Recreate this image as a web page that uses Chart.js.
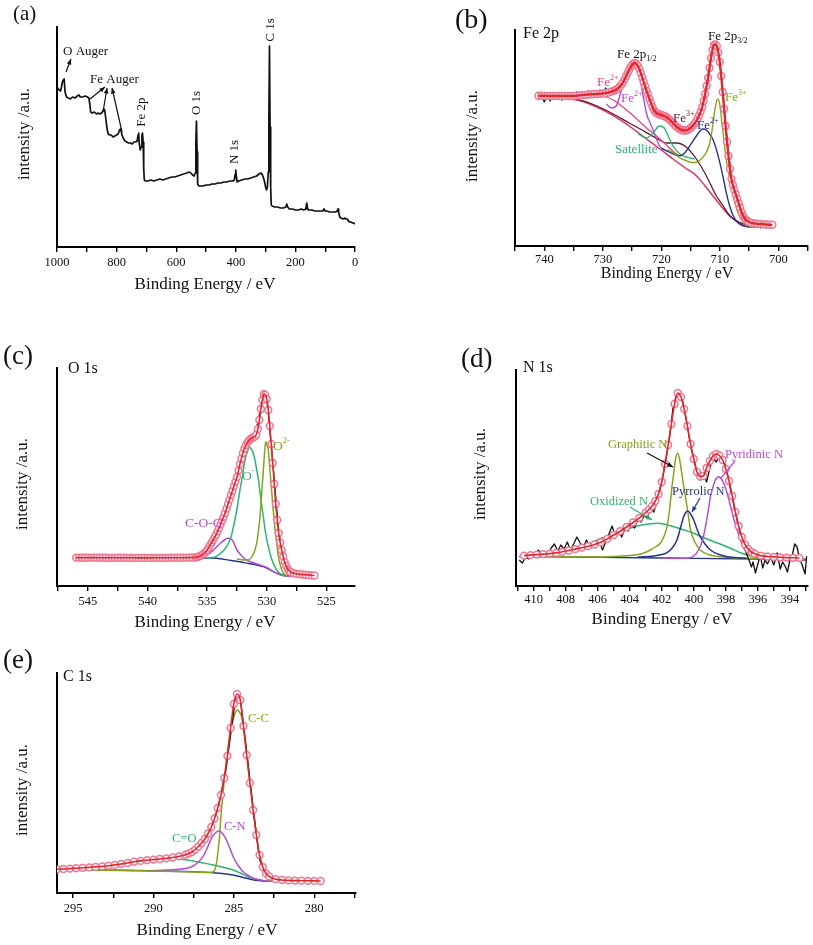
<!DOCTYPE html>
<html>
<head>
<meta charset="utf-8">
<script src="https://cdn.jsdelivr.net/npm/chart.js@4.4.1/dist/chart.umd.min.js"></script>
<style>
  html, body { margin: 0; padding: 0; background: #fff; }
  #wrap { position: relative; width: 813px; height: 945px; overflow: hidden; }
  canvas { position: absolute; }
</style>
</head>
<body>
<div id="wrap"></div>
<script>
// ---- values: [binding energy (eV), intensity (a.u.)] ----

// (a) survey
const surveyA = [[1000,160],[996,158],[992,157],[988,156],[985,160],[982,165],[979,167],[976,168],[973,155],[968,150],[962,149],[955,148],[948,150],[940,149],[932,151],[926,152],[922,150],[915,150],[905,151],[898,150],[893,149],[890,143],[887,135],[882,134],[875,135],[868,133],[862,134],[856,133],[850,134],[846,136],[843,138],[840,137],[836,128],[832,118],[828,113],[824,112],[818,112],[812,110],[806,111],[800,112],[795,113],[790,117],[786,118],[782,112],[778,109],[772,106],[766,105],[760,104],[754,104],[748,103],[742,105],[736,105],[731,106],[728,112],[726,114],[724,104],[721,97],[718,100],[715,112],[713,114],[711,105],[709,78],[707,67],[703,66],[695,66],[685,67],[675,66],[665,67],[655,68],[645,67],[635,68],[625,69],[615,70],[605,70],[595,71],[585,72],[575,73],[565,74],[557,75],[551,74],[545,72],[540,71],[536,74],[534,105],[532,126],[530,95],[528,63],[524,61],[518,61],[510,61],[500,62],[490,62],[480,63],[470,63],[460,64],[450,64],[440,65],[430,65],[420,66],[410,66],[405,67],[402,73],[400,77],[398,70],[395,65],[390,66],[380,67],[370,68],[360,68],[350,69],[340,70],[330,71],[322,73],[316,74],[312,73],[308,70],[304,66],[300,60],[297,57],[294,60],[291,75],[289,130],[287,201],[285,120],[283,60],[281,42],[278,41],[270,40],[260,40],[250,39],[240,39],[232,40],[229,43],[226,40],[220,38],[210,38],[200,37],[190,37],[180,38],[172,37],[165,38],[162,44],[159,38],[155,37],[145,37],[135,36],[125,36],[115,36],[108,36],[104,38],[100,36],[95,36],[85,35],[75,35],[65,35],[60,36],[57,38],[55,35],[51,30],[47,29],[40,28],[34,29],[30,28],[26,28],[22,26],[18,25],[14,25],[8,24],[4,24],[0,23]];

// (b) Fe 2p
const feRaw = [[741,146],[740.5,152],[740,144],[739.5,150],[739,145],[738.5,151],[738,147],[737.5,149],[737,146],[736.5,150],[736,148],[735.5,153],[735,149],[734.5,154],[734,150],[733.5,152],[733,150],[732.5,155],[732,151],[731.5,153],[731,150],[730.5,156],[730,152],[729.5,158],[729,153],[728.5,157],[728,155],[727.5,160],[727,162],[726.5,166],[726,172],[725.5,178],[725,184],[724.5,186],[724,181],[723.5,172],[723,164],[722.5,155],[722,146],[721.5,138],[721,135],[720.5,133],[720,131],[719.5,130],[719,128],[718.5,125],[718,121],[717.5,118],[717,116],[716.5,114],[716,116],[715.5,114],[715,118],[714.5,121],[714,125],[713.5,132],[713,141],[712.5,155],[712,170],[711.5,190],[711,201],[710.5,199],[710,184],[709.5,155],[709,121],[708.5,92],[708,70],[707.5,60],[707,52],[706.5,40],[706,28],[705.5,24],[705,20],[704.5,25],[704,19],[703.5,23],[703,18],[702.5,24],[702,20],[701.5,23],[701,19]];
const feEnv = [[741,150.3],[740.5,150.3],[740,150.2],[739.5,150.1],[739,150],[738.5,150],[738,150],[737.5,150],[737,150],[736.5,150],[736,150],[735.5,150],[735,150],[734.5,150.3],[734,150.6],[733.5,150.9],[733,151.2],[732.5,151.5],[732,151.7],[731.5,151.8],[731,152],[730.5,152.2],[730,152.5],[729.5,153],[729,153.5],[728.5,154.5],[728,155.5],[727.75,156.2],[727.5,157],[727.25,158.3],[727,160],[726.75,161.8],[726.5,164],[726.25,167],[726,170],[725.75,173],[725.5,176],[725.25,178.7],[725,181],[724.75,182.5],[724.5,183],[724.25,182],[724,180],[723.75,177],[723.5,173],[723.25,168.5],[723,164],[722.75,159.5],[722.5,155],[722.25,151],[722,147],[721.75,143],[721.5,139],[721.25,136],[721,134],[720.75,132.8],[720.5,132],[720.25,131.5],[720,131],[719.75,130.5],[719.5,130],[719.25,129.3],[719,128.5],[718.75,127.3],[718.5,126],[718.25,124.5],[718,123],[717.75,121.5],[717.5,120],[717.25,118.7],[717,117.5],[716.75,116.7],[716.5,116],[716.25,115.7],[716,115.5],[715.75,115.6],[715.5,116],[715.25,116.9],[715,118],[714.75,119.4],[714.5,121],[714.25,122.9],[714,125],[713.75,127.8],[713.5,131],[713.25,134.7],[713,139],[712.75,145],[712.5,152],[712.25,160],[712,168],[711.75,178],[711.5,188],[711.25,196],[711,201],[710.75,201.5],[710.5,200],[710.25,193.5],[710,184],[709.75,170],[709.5,154],[709.25,137],[709,120],[708.75,104],[708.5,90],[708.25,77],[708,67],[707.75,61],[707.5,56],[707.25,51.5],[707,47],[706.75,42.5],[706.5,38],[706.25,33.5],[706,30],[705.75,27.8],[705.5,26],[705.25,25],[705,24],[704.5,23],[704,22.5],[703.5,22],[703,22],[702.5,21.7],[702,21.5],[701.5,21.3],[701,21.3]];
const feBg = [[741.3,149.7],[737,148],[733.9,145.3],[731,139],[728.2,130.3],[725,118],[722.5,107],[720,96],[718,87],[716,78.5],[714,70.3],[712.5,60],[711.2,50.3],[709.5,38],[708.3,30.3],[707,24],[706,20.3],[704,18.8],[702.6,18.7],[701,18.5]];
const feSat3 = [[741.3,149.7],[737,148.2],[733.9,145.8],[731,140],[728.2,132],[725.5,123],[723.6,117],[720.8,107.7],[719.1,103],[717.4,103],[715.7,98.7],[714,87],[712.3,70.3],[710.6,50.3],[709.4,40],[708.3,30.3],[706,22],[704,19.5],[702,18.8]];
const feSatellite = [[724,112.5],[722.5,108],[721.4,113],[720.3,120],[719.5,118],[718.8,110],[718,100],[716.8,92],[716,89.5],[715,88],[714.3,87]];
const fe2Violet = [[729.4,142],[728.5,138],[727.7,140],[727.1,150],[726.5,163],[725.8,176],[725.2,182],[724.8,182.5],[724.2,178],[723.6,166],[723.1,150],[722.5,132],[721.9,123],[721.4,116],[720.8,107],[720.3,100],[719.5,96]];
const fe2Pink = [[741.3,150],[735,150],[731,151],[729.4,149],[728.2,146],[727,141],[725.5,134],[724,126],[722.5,118],[721,111],[719.5,103],[718,95],[717,90]];
const fe2Blue = [[720,98],[719,95],[718.5,93.7],[717.5,91],[716.8,90.3],[716,93],[715.1,100.3],[714,110],[712.9,117],[712.3,116],[711.6,111],[711.2,107],[710.5,95],[710,83.7],[709.4,68],[708.9,53.7],[708.3,40],[707.7,30.3],[707,24],[706,20.3],[704.5,18.8]];
const fe3Olive = [[719,96],[718,93.7],[716.8,88],[715.7,85.3],[714.7,83.5],[714,83.7],[713,88],[712.3,93.7],[711.7,103],[711.2,120.3],[710.8,137],[710.4,147],[710,142],[709.7,127],[709.3,107],[708.9,87],[708.3,67],[707.7,50.3],[707,35],[706,23.7],[705,19.5],[704,18.8]];

// (c) O 1s
const oRaw = [[546,28.5],[545.5,29.8],[545,28],[544.5,30.5],[544,29],[543.5,30.8],[543,28.6],[542.5,28.2],[542,27.9],[541.5,28.4],[541,27.5],[540.5,26.5],[540,25.3],[539.5,25.8],[539,26.6],[538.5,25.9],[538,27.2],[537.5,28],[537,27.6],[536.5,28.3],[536,27.5],[535.5,29.8],[535,36],[534.5,46],[534,58.5],[533.5,73.5],[533,91],[532.5,109.5],[532,133],[531.5,146],[531,150],[530.5,178],[530.25,193],[530,188],[529.5,124],[529,54],[528.5,24],[528,14],[527.5,12],[527,11],[526.5,10.5],[526,9.5]];
const oEnv = [[546,28.4],[545.75,28.4],[545.5,28.3],[545.25,28.3],[545,28.3],[544.75,28.4],[544.5,28.4],[544.25,28.3],[544,28.3],[543.75,28.3],[543.5,28.3],[543.25,28.2],[543,28.2],[542.75,28.2],[542.5,28.3],[542.25,28.3],[542,28.3],[541.75,28.2],[541.5,28.2],[541.25,28.2],[541,28.2],[540.75,28.1],[540.5,28.1],[540.25,28.1],[540,28.1],[539.75,28.1],[539.5,28.2],[539.25,28.2],[539,28.2],[538.75,28.2],[538.5,28.2],[538.25,28.2],[538,28.3],[537.75,28.3],[537.5,28.3],[537.25,28.3],[537,28.3],[536.75,28.4],[536.5,28.4],[536.25,28.5],[536,28.5],[535.875,28.8],[535.75,29.3],[535.625,29.8],[535.5,30.5],[535.375,31.6],[535.25,33],[535.125,34.4],[535,36],[534.875,38.5],[534.75,41],[534.625,43.5],[534.5,46],[534.375,48.7],[534.25,51.5],[534.125,54.7],[534,58],[533.875,61.7],[533.75,65.5],[533.625,69.2],[533.5,73],[533.375,77.5],[533.25,82],[533.125,86.5],[533,91],[532.875,95.5],[532.75,100],[532.625,104.5],[532.5,109],[532.375,115.5],[532.25,122],[532.125,127.5],[532,133],[531.875,137.5],[531.75,141],[531.625,143.5],[531.5,145.5],[531.375,147],[531.25,148],[531.125,148.8],[531,149.5],[530.875,151.5],[530.75,157],[530.625,166],[530.5,177],[530.375,186],[530.25,192],[530.125,191],[530,187],[529.875,176],[529.75,160],[529.625,142],[529.5,123],[529.375,102],[529.25,82],[529.125,66],[529,53],[528.875,43.5],[528.75,36],[528.625,29.5],[528.5,24],[528.375,20],[528.25,17],[528.125,15.3],[528,14],[527.75,12.8],[527.5,12.2],[527.25,11.8],[527,11.5],[526.75,11.2],[526.5,11],[526.25,10.7],[526,10.5]];
const oBg = [[546,28.3],[540,28.3],[536,28.2],[535,27.9],[534.2,27.7],[533,25.5],[532.25,24.3],[531.5,22.5],[530.85,21],[530,18],[529.45,14.3],[528.9,11.5],[528.3,10.3],[527,10.2],[526,10.2]];
const oCOC = [[546,28.3],[536,28.3],[535.6,28.5],[535,31],[534.48,36],[533.9,42.7],[533.5,46.5],[533.2,47.7],[532.9,46],[532.5,36],[532.1,30],[531.7,26],[531.2,23.5],[530.57,21],[530,18.5],[529.45,14.3],[529,11.8],[528.6,10.3],[527.5,10]];
const oMinus = [[535,28],[534.48,28.5],[534,31.5],[533.37,39.3],[533,49],[532.8,59.3],[532.5,77],[532.25,96],[532,113],[531.83,126],[531.6,135],[531.45,138.7],[531.3,137],[531.13,132.7],[530.9,120],[530.7,106],[530.5,87],[530.29,69.3],[530.1,53],[529.87,39.3],[529.65,29],[529.45,22.7],[529.2,16.5],[528.9,12.7],[528.5,10.5]];
const o2Minus = [[532.5,27],[531.7,26],[531.2,30],[530.85,42.7],[530.7,55],[530.57,69.3],[530.43,92],[530.29,116],[530.18,134],[530.09,144.3],[529.98,141],[529.87,136],[529.75,118],[529.6,96],[529.45,75],[529.3,56],[529.15,41],[529.03,29.3],[528.8,18],[528.6,12.7],[528.3,10.5]];

// (d) N 1s
const nRaw = [[410.9,26],[410.7,23],[410.5,29],[410.3,27],[410.1,33],[409.9,30],[409.7,36],[409.5,31],[409.3,34],[409.1,32],[408.9,38],[408.7,42],[408.5,35],[408.3,41],[408.1,37],[407.9,44],[407.7,36],[407.5,42],[407.3,49],[407.1,43],[406.9,38],[406.7,46],[406.5,40],[406.3,44],[406.1,39],[405.9,45],[405.7,36],[405.5,44],[405.3,52],[405.1,60],[404.9,50],[404.7,55],[404.5,49],[404.3,57],[404.1,55],[403.9,62],[403.7,58],[403.5,66],[403.3,64],[403.1,70],[402.9,68],[402.7,78],[402.5,74],[402.3,84],[402.1,98],[401.9,112],[401.7,130],[401.5,150],[401.3,178],[401.1,190],[400.95,196],[400.8,192],[400.6,178],[400.4,160],[400.2,140],[400,128],[399.8,113],[399.6,106],[399.4,112],[399.2,104],[399,118],[398.8,128],[398.6,124],[398.4,130],[398.2,128],[398,120],[397.8,104],[397.6,88],[397.4,74],[397.2,58],[397,48],[396.8,36],[396.6,28],[396.4,19],[396.3,24],[396.15,13],[396,22],[395.85,31],[395.7,18],[395.55,26],[395.4,22],[395.2,29],[395,21],[394.8,33],[394.6,17],[394.45,24],[394.3,20],[394.15,14],[394,26],[393.85,31],[393.7,42],[393.55,39],[393.4,27],[393.25,22],[393.05,12],[392.95,30]];
const nEnv = [[410.6,30.4],[410.2,30.9],[409.8,31.4],[409.4,31.9],[409,32.4],[408.6,33.1],[408.2,34.2],[407.8,35.5],[407.4,36.9],[407,38.3],[406.6,39.8],[406.2,41.5],[405.8,43.8],[405.4,47.1],[405,51],[404.6,54.8],[404.2,59],[403.8,63.5],[403.4,68.2],[403,73.5],[402.8,76.5],[402.6,80],[402.4,85],[402.2,92],[402,104],[401.8,122],[401.6,141],[401.4,162],[401.2,182],[401,193],[400.8,189],[400.6,177],[400.4,160],[400.2,142],[400,127],[399.8,114],[399.6,109.5],[399.4,110],[399.2,118],[399,125],[398.8,130],[398.6,132],[398.4,130.5],[398.2,126],[398,117],[397.8,105],[397.6,90],[397.4,74],[397.2,60],[397,49],[396.8,41.5],[396.6,37],[396.4,34],[396.2,32.3],[395.8,30.3],[395.4,29.5],[395,29.1],[394.6,28.7],[394.2,28.4],[393.8,28.2],[393.4,28]];
const nBg = [[410.9,29.5],[402,28],[396,27],[393,26]];
const nOxidized = [[410.85,30],[409,33],[407.7,37.7],[406.5,42.5],[405.8,47.7],[405,51.5],[404.17,56.7],[403.5,60],[402.9,61.7],[402.3,62.7],[401.8,61.8],[401.25,59.3],[400.6,56],[400,52.7],[399.4,48.5],[398.75,44.3],[398.2,41],[397.7,37.7],[397.2,34],[396.67,31],[396,29],[395.2,28.3],[394,27.5],[393,27]];
const nGraphitic = [[410.5,29.5],[406,29],[405,29.5],[404,30.5],[403.3,32],[402.7,36],[402.4,39],[402.09,42.7],[401.85,50],[401.67,59.3],[401.5,78],[401.36,99.3],[401.25,113],[401.15,126],[401,132.7],[400.84,122.7],[400.7,107],[400.52,89.3],[400.35,72],[400.2,56],[399.9,43],[399.6,36],[399,31],[398.35,29.3],[397,28],[395,27.5],[393,27]];
const nPyrrolic = [[403.5,29],[402.5,30],[402,31.5],[401.67,33.3],[401.3,39],[401.05,46],[400.85,57],[400.63,69.3],[400.5,73.5],[400.36,75],[400.2,72],[400,66],[399.8,57],[399.6,49.3],[399.3,42],[398.96,36],[398.5,32],[397.9,29.3],[397,28],[396.7,27.7]];
const nPyridinic = [[402,28],[400.42,27.7],[400,30],[399.7,36],[399.45,46],[399.27,59.3],[399.1,75],[398.96,89.3],[398.8,99],[398.65,106],[398.44,109.3],[398.3,107.5],[398.13,102.7],[397.9,92],[397.7,79.3],[397.5,67],[397.29,56],[397.08,45.5],[396.87,37.7],[396.55,32],[396.25,29.3],[395.7,27.5],[395.2,26.7],[394,26.3],[393,26]];

// (e) C 1s
const cRaw = [[296,23.5],[295,24.5],[294,25.5],[293,26.8],[292,29],[291,31.5],[290,33.2],[289,35],[288,37.5],[287.5,42],[287,48],[286.5,61],[286,84],[285.5,122],[285,182],[284.8,201],[284.6,194],[284.2,142],[283.8,84],[283.4,34],[283,18],[282.5,14],[282,12.8],[281,12.3],[280,12],[279.6,11.5]];
const cEnv = [[296,23.7],[295.6,24],[295.2,24.4],[294.8,24.8],[294.4,25.2],[294,25.6],[293.6,26.1],[293.2,26.6],[292.8,27.3],[292.4,28.1],[292,29],[291.6,30],[291.2,31.3],[290.8,32.1],[290.4,32.8],[290,33.4],[289.6,34],[289.2,34.7],[288.8,35.5],[288.4,36.7],[288,38.3],[287.8,39.5],[287.6,41],[287.4,43.5],[287.2,46.5],[287,50],[286.8,54],[286.6,59.5],[286.4,66],[286.2,74.5],[286,85],[285.8,98],[285.6,115],[285.4,137],[285.2,165],[285,189],[284.8,199],[284.6,193],[284.4,167],[284.2,138],[284,110],[283.8,83],[283.6,58],[283.4,38],[283.2,26],[283,19.5],[282.8,16.5],[282.4,13.8],[282,13],[281.6,12.6],[281.2,12.4],[280.8,12.3],[280.4,12.2],[280,12.1],[279.6,12]];
const cBg = [[296,23.7],[291,22.5],[288,21.5],[286.29,20.3],[285.04,18],[284.21,14.7],[283.37,12.3],[282,12],[279.6,12]];
const cCC = [[296,23.5],[291,22.3],[288,21.3],[286.5,20.5],[286.29,21],[286.08,29.7],[285.9,55],[285.77,83],[285.62,108],[285.46,133],[285.3,152],[285.15,166.3],[285,176],[284.79,183],[284.65,181],[284.52,176.3],[284.36,160],[284.21,139.7],[284.05,118],[283.9,99.7],[283.74,78],[283.58,56.3],[283.42,38],[283.27,26.3],[283.05,18],[282.85,14.7],[282.5,12.6],[282,12.2]];
const cCN = [[290,22.5],[288.37,23.7],[287.9,25],[287.54,27],[287.2,31],[286.92,36.3],[286.65,45],[286.4,54.7],[286.15,60],[285.92,62.3],[285.7,59.5],[285.46,53],[285.25,45],[285.04,36.3],[284.75,28],[284.42,21.3],[284.1,17.5],[283.79,14.7],[283.4,13],[282.96,12],[282.5,12]];
const cCO = [[296,23.7],[294.5,24.8],[293.37,26.3],[292.3,28.3],[291.29,30.3],[290.5,31.8],[289.83,33],[289.2,33.8],[288.58,34],[288,33.3],[287.54,32],[286.9,30],[286.29,28],[285.6,25.5],[285.04,23],[284.6,20],[284.21,17],[283.9,15],[283.58,13.7],[283.2,12.6],[282.96,12],[282.5,12]];

// axis ticks and labelled ticks
const ticksA = [0,100,200,300,400,500,600,700,800,900,1000];
const labelsA = [0,200,400,600,800,1000];
const ticksB = [695,700,705,710,715,720,725,730,735,740,745];
const labelsB = [700,710,720,730,740];
const ticksC = [525,527.5,530,532.5,535,537.5,540,542.5,545,547.5];
const labelsC = [525,530,535,540,545];
const ticksD = [393,394,395,396,397,398,399,400,401,402,403,404,405,406,407,408,409,410,411];
const labelsD = [394,396,398,400,402,404,406,408,410];
const ticksE = [277.5,280,282.5,285,287.5,290,292.5,295];
const labelsE = [280,285,290,295];

// ---- styling ----
const SERIF = '"Liberation Serif", "Times New Roman", serif';
const RED = '#e3262d', RING = '#ef7592', BLACK = '#111';
const VIOLET = '#b44bd6', GREEN = '#2db56f', OLIVE = '#8aa11b', NAVY = '#27348b';
const PINK = '#e6457a', MAROON = '#5e1b2e';

function curve(data, color, width, extra) {
  return Object.assign({
    data: data.map(([x, y]) => ({ x, y })),
    borderColor: color, borderWidth: width, pointRadius: 0, fill: false,
    tension: 0.4, cubicInterpolationMode: 'monotone', borderJoinStyle: 'round'
  }, extra || {});
}
function raw(data, width) {
  return curve(data, BLACK, width, { tension: 0, cubicInterpolationMode: 'default' });
}
function rings(data) {
  return {
    data: data.map(([x, y]) => ({ x, y })), showLine: false,
    pointRadius: 3.4, pointBorderWidth: 1.5, pointBorderColor: RING, pointBackgroundColor: '#fff'
  };
}

function drawRich(ctx, x, y, parts, size, color) {
  ctx.fillStyle = color;
  ctx.textBaseline = 'middle';
  ctx.textAlign = 'left';
  let cx = x;
  parts.forEach(([t, kind]) => {
    const s = kind ? size * 0.62 : size;
    const dy = kind === 'sup' ? -size * 0.36 : kind === 'sub' ? size * 0.3 : 0;
    ctx.font = s + 'px ' + SERIF;
    ctx.fillText(t, cx, y + dy);
    cx += ctx.measureText(t).width;
  });
}

function arrow(ctx, x1, y1, x2, y2, color, head) {
  ctx.strokeStyle = color;
  ctx.fillStyle = color;
  ctx.lineWidth = 1.2;
  ctx.beginPath(); ctx.moveTo(x1, y1); ctx.lineTo(x2, y2); ctx.stroke();
  if (!head) return;
  const a = Math.atan2(y2 - y1, x2 - x1), L = 6;
  ctx.beginPath();
  ctx.moveTo(x2, y2);
  ctx.lineTo(x2 - L * Math.cos(a - 0.4), y2 - L * Math.sin(a - 0.4));
  ctx.lineTo(x2 - L * Math.cos(a + 0.4), y2 - L * Math.sin(a + 0.4));
  ctx.closePath(); ctx.fill();
}

const panels = [
  {
    box: [0, 0, 400, 300], area: [57, 27, 355, 247], x: [0, 1000], ticks: ticksA, labels: labelsA, pad: 3,
    sets: [raw(surveyA, 1.7)],
    tag: ['(a)', 13, 14, 21], xTitle: [205, 285, 17], yTitle: [25, 134],
    notes: [
      { p: [['O Auger']], x: 63, y: 52, s: 13, c: BLACK },
      { p: [['Fe Auger']], x: 90, y: 80, s: 13, c: BLACK },
      { p: [['Fe 2p']], x: 142, y: 112, s: 13, c: BLACK, rot: true },
      { p: [['O 1s']], x: 197, y: 103, s: 13, c: BLACK, rot: true },
      { p: [['N 1s']], x: 235, y: 152, s: 13, c: BLACK, rot: true },
      { p: [['C 1s']], x: 271, y: 30, s: 13, c: BLACK, rot: true }
    ],
    arrows: [[66, 72, 71, 59, BLACK, true], [90, 99, 105, 87, BLACK, true], [103, 112, 107, 88, BLACK, true], [122, 132, 112, 88, BLACK, true]]
  },
  {
    box: [400, 0, 413, 300], area: [515, 30, 808, 246], x: [695, 745], ticks: ticksB, labels: labelsB, pad: 1,
    sets: [
      curve(feEnv, RED, 2.4), rings(feEnv), raw(feRaw, 1.3),
      curve(fe3Olive, OLIVE, 1.4), curve(fe2Blue, NAVY, 1.4), curve(feSatellite, GREEN, 1.4),
      curve(fe2Violet, VIOLET, 1.4), curve(fe2Pink, PINK, 1.3), curve(feSat3, MAROON, 1.3), curve(feBg, '#e0306a', 1.5)
    ],
    tag: ['(b)', 455, 21, 28], xTitle: [667, 274, 16], yTitle: [473, 136],
    notes: [
      { p: [['Fe 2p']], x: 523, y: 34, s: 16, c: BLACK },
      { p: [['Fe 2p'], ['1/2', 'sub']], x: 617, y: 55, s: 13, c: BLACK },
      { p: [['Fe 2p'], ['3/2', 'sub']], x: 708, y: 37, s: 13, c: BLACK },
      { p: [['Fe'], ['2+', 'sup']], x: 597, y: 83, s: 13, c: PINK },
      { p: [['Fe'], ['2+', 'sup']], x: 621, y: 99, s: 13, c: VIOLET },
      { p: [['Fe'], ['3+', 'sup']], x: 673, y: 119, s: 13, c: MAROON },
      { p: [['Fe'], ['2+', 'sup']], x: 697, y: 126, s: 13, c: NAVY },
      { p: [['Fe'], ['3+', 'sup']], x: 725, y: 98, s: 13, c: OLIVE },
      { p: [['Satellite']], x: 615, y: 150, s: 13, c: GREEN }
    ],
    arrows: []
  },
  {
    box: [0, 320, 400, 320], area: [57, 368, 355, 586], x: [522.6, 547.6], ticks: ticksC, labels: labelsC, pad: 3,
    sets: [
      curve(oEnv, RED, 1.6), rings(oEnv), raw(oRaw, 1.3),
      curve(o2Minus, OLIVE, 1.5), curve(oMinus, GREEN, 1.5), curve(oCOC, VIOLET, 1.5), curve(oBg, NAVY, 1.4)
    ],
    tag: ['(c)', 3, 357, 27], xTitle: [205, 623, 17], yTitle: [23, 484],
    notes: [
      { p: [['O 1s']], x: 68, y: 369, s: 16, c: BLACK },
      { p: [['C-O-C']], x: 185, y: 523, s: 13.5, c: VIOLET },
      { p: [['O'], ['-', 'sup']], x: 242, y: 476, s: 13.5, c: GREEN },
      { p: [['O'], ['2-', 'sup']], x: 273, y: 446, s: 13.5, c: OLIVE }
    ],
    arrows: []
  },
  {
    box: [400, 320, 413, 320], area: [516, 370, 808, 586], x: [392.9, 411.1], ticks: ticksD, labels: labelsD, pad: 1,
    sets: [
      curve(nEnv, RED, 1.6), rings(nEnv), raw(nRaw, 1.3),
      curve(nPyridinic, VIOLET, 1.5), curve(nPyrrolic, NAVY, 1.5), curve(nGraphitic, OLIVE, 1.5),
      curve(nOxidized, GREEN, 1.5), curve(nBg, NAVY, 1.3)
    ],
    tag: ['(d)', 461, 360, 27], xTitle: [662, 620, 17], yTitle: [481, 474],
    notes: [
      { p: [['N 1s']], x: 523, y: 368, s: 16, c: BLACK },
      { p: [['Graphitic N']], x: 608, y: 445, s: 12.5, c: OLIVE },
      { p: [['Pyrrolic N']], x: 672, y: 492, s: 12.5, c: NAVY },
      { p: [['Oxidized N']], x: 590, y: 502, s: 12.5, c: GREEN },
      { p: [['Pyridinic N']], x: 725, y: 455, s: 12.5, c: VIOLET }
    ],
    arrows: [[647, 453, 673, 467, BLACK, true], [700, 498, 692, 512, NAVY, true], [630, 507, 652, 520, GREEN, true], [735, 461, 721, 478, VIOLET, false]]
  },
  {
    box: [0, 645, 400, 300], area: [57, 673, 356, 893], x: [277.4, 296], ticks: ticksE, labels: labelsE, pad: 3,
    sets: [
      curve(cEnv, RED, 1.6), rings(cEnv), raw(cRaw, 1.3),
      curve(cCC, OLIVE, 1.5), curve(cCN, VIOLET, 1.5), curve(cCO, GREEN, 1.5), curve(cBg, NAVY, 1.4)
    ],
    tag: ['(e)', 3, 661, 27], xTitle: [207, 931, 17], yTitle: [23, 790],
    notes: [
      { p: [['C 1s']], x: 63, y: 677, s: 16, c: BLACK },
      { p: [['C-C']], x: 248, y: 719, s: 12.5, c: OLIVE },
      { p: [['C-N']], x: 224, y: 827, s: 12.5, c: VIOLET },
      { p: [['C=O']], x: 172, y: 839, s: 12.5, c: GREEN }
    ],
    arrows: []
  }
];

const wrap = document.getElementById('wrap');

panels.forEach(p => {
  const [bl, bt, bw, bh] = p.box;
  const [al, at, ar, ab] = p.area;
  const cv = document.createElement('canvas');
  cv.width = bw; cv.height = bh;
  cv.style.left = bl + 'px'; cv.style.top = bt + 'px';
  cv.style.width = bw + 'px'; cv.style.height = bh + 'px';
  wrap.appendChild(cv);

  const textPlugin = {
    id: 'text' + bl + '_' + bt,
    afterDraw(chart) {
      const ctx = chart.ctx;
      ctx.save();
      // panel tag
      drawRich(ctx, p.tag[1] - bl, p.tag[2] - bt, [[p.tag[0]]], p.tag[3], BLACK);
      // axis titles
      ctx.font = p.xTitle[2] + 'px ' + SERIF;
      ctx.fillStyle = BLACK;
      ctx.textAlign = 'center';
      ctx.textBaseline = 'middle';
      ctx.fillText('Binding Energy / eV', p.xTitle[0] - bl, p.xTitle[1] - bt);
      ctx.font = '17px ' + SERIF;
      ctx.save();
      ctx.translate(p.yTitle[0] - bl, p.yTitle[1] - bt);
      ctx.rotate(-Math.PI / 2);
      ctx.fillText('intensity /a.u.', 0, 0);
      ctx.restore();
      // annotations
      p.notes.forEach(n => {
        if (n.rot) {
          ctx.save();
          ctx.translate(n.x - bl, n.y - bt);
          ctx.rotate(-Math.PI / 2);
          ctx.font = n.s + 'px ' + SERIF;
          const w = ctx.measureText(n.p[0][0]).width;
          drawRich(ctx, -w / 2, 0, n.p, n.s, n.c);
          ctx.restore();
        } else {
          drawRich(ctx, n.x - bl, n.y - bt, n.p, n.s, n.c);
        }
      });
      p.arrows.forEach(a => arrow(ctx, a[0] - bl, a[1] - bt, a[2] - bl, a[3] - bt, a[4], a[5]));
      ctx.restore();
    }
  };

  new Chart(cv.getContext('2d'), {
    type: 'line',
    data: { datasets: p.sets },
    options: {
      responsive: false,
      animation: false,
      events: [],
      layout: { padding: { top: at - bt, right: bl + bw - ar, left: 0, bottom: 0 } },
      plugins: { legend: { display: false }, tooltip: { enabled: false } },
      scales: {
        x: {
          type: 'linear', reverse: true, min: p.x[0], max: p.x[1],
          afterFit: s => { s.height = bt + bh - ab; },
          afterBuildTicks: s => { s.ticks = p.ticks.map(v => ({ value: v })); },
          grid: { display: true, drawOnChartArea: false, drawTicks: true, tickLength: 5, color: '#000', lineWidth: 1.4 },
          border: { display: true, color: '#000', width: 2 },
          ticks: {
            autoSkip: false, maxRotation: 0, padding: p.pad, color: '#111',
            font: { family: SERIF, size: 12.5 },
            callback: v => p.labels.includes(v) ? String(v) : ''
          }
        },
        y: {
          type: 'linear', min: 0, max: ab - at,
          afterFit: s => { s.width = al - bl; },
          grid: { display: false },
          ticks: { display: false },
          border: { display: true, color: '#000', width: 2 }
        }
      }
    },
    plugins: [textPlugin]
  });
});
</script>
</body>
</html>
